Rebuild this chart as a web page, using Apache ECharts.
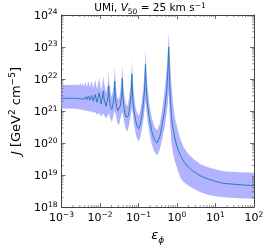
<!DOCTYPE html>
<html><head><meta charset="utf-8">
<script src="https://cdn.jsdelivr.net/npm/echarts@6/dist/echarts.min.js"></script>
<style>html,body{margin:0;padding:0;background:#fff}#c{width:267px;height:250px}</style>
</head><body><div id="c"></div>
<script>
// epsilon_phi sample positions
const eps = [0.001,0.0014,0.00152,0.0017,0.00188,0.00212,0.00238,0.00253,0.0027,0.00289,0.0031,0.00334,0.0036,0.0039,0.00422,0.0046,0.00502,0.0055,0.00608,0.0067,0.0075,0.0084,0.0095,0.0108,0.0124,
0.0127,0.0145,0.0165,0.0169,
0.0174,0.0187,0.0203,0.022,0.0236,0.0243,
0.0247,0.0252,0.0261,0.0274,0.0288,0.0304,0.0321,0.0337,0.0354,0.0367,0.0375,0.038,
0.0387,0.0398,0.0417,0.0444,0.0473,0.0507,0.0543,0.0579,0.0617,0.0646,0.0665,0.0676,
0.0693,0.0722,0.0769,0.0841,0.092,0.1014,0.1117,0.1222,0.1336,0.1426,0.1483,0.152,
0.1585,0.17,0.19,0.221,0.258,0.304,0.359,0.418,0.487,0.544,0.583,0.608,
0.63,0.66,0.72,0.8,0.9,1.05,1.25,1.52,2.0,2.64,4.0,6.6,10,16.5,41,100];
// log10 J (central curve)
const logJ = [21.40,21.40,21.41,21.40,21.41,21.40,21.41,21.395,21.42,21.39,21.43,21.38,21.44,21.37,21.45,21.36,21.47,21.34,21.49,21.31,21.52,21.27,21.57,21.22,21.63,
21.39,21.15,21.51,21.78,
21.42,21.16,21.05,21.23,21.55,21.93,
21.64,21.44,21.26,21.10,21.00,20.95,21.02,21.16,21.35,21.56,21.77,22.02,
21.64,21.39,21.16,20.94,20.81,20.75,20.84,21.03,21.27,21.55,21.83,22.15,
21.64,21.30,20.99,20.71,20.54,20.45,20.59,20.85,21.20,21.60,22.01,22.47,
21.73,21.24,20.79,20.37,20.12,20.00,20.20,20.60,21.10,21.70,22.30,23.00,
22.30,21.60,20.80,20.40,20.10,19.81,19.60,19.41,19.24,19.12,18.98,18.87,18.80,18.74,18.70,18.67];
// log10 J lower edge of band
const logJlo = [21.08,21.08,21.08,21.07,21.08,21.07,21.07,21.06,21.07,21.05,21.06,21.03,21.05,21.01,21.03,20.99,21.01,20.97,20.99,20.94,20.97,20.89,20.93,20.84,20.92,
20.88,20.77,20.90,20.95,
20.90,20.77,20.66,20.83,20.95,21.00,
20.95,20.95,20.86,20.71,20.61,20.56,20.62,20.75,20.85,20.90,20.95,21.00,
20.95,20.90,20.75,20.54,20.42,20.36,20.44,20.62,20.80,20.95,21.05,21.12,
21.00,20.88,20.58,20.31,20.14,20.05,20.19,20.42,20.70,21.00,21.20,21.30,
21.10,20.75,20.35,19.97,19.73,19.61,19.80,20.15,20.55,20.95,21.30,21.60,
21.20,20.60,20.00,19.65,19.40,19.15,18.90,18.78,18.67,18.58,18.47,18.38,18.34,18.31,18.28,18.26];
// log10 J upper edge of band
const logJhi = [21.81,21.81,21.83,21.80,21.83,21.80,21.84,21.79,21.85,21.79,21.86,21.78,21.88,21.77,21.90,21.76,21.92,21.74,21.95,21.71,21.98,21.67,22.03,21.62,22.10,
21.90,21.55,21.98,22.25,
21.92,21.57,21.45,21.66,22.05,22.40,
22.15,21.95,21.72,21.52,21.40,21.35,21.43,21.60,21.85,22.10,22.30,22.48,
22.20,21.93,21.65,21.38,21.22,21.15,21.26,21.48,21.78,22.10,22.35,22.62,
22.25,21.88,21.50,21.12,20.94,20.85,21.00,21.32,21.72,22.15,22.50,22.92,
22.35,21.85,21.25,20.80,20.52,20.39,20.62,21.10,21.70,22.35,22.90,23.47,
23.10,22.60,21.80,21.20,20.75,20.40,20.10,19.85,19.65,19.51,19.35,19.24,19.18,19.12,19.09,19.07];

const xMin = 1e-3, xMax = 1e2, yMin = 1e18, yMax = 1e24;
const xDecades = [-3,-2,-1,0,1];
const yDecades = [18,19,20,21,22,23];
const minorMult = [2,3,4,5,6,7,8,9];

const J = logJ.map(v => Math.pow(10, v));
const Jlo = logJlo.map(v => Math.pow(10, v));
const Jhi = logJhi.map(v => Math.pow(10, v));

const FONT = 'DejaVu Sans';
const tickRich = {
  b: {fontSize: 11, fontFamily: FONT, color: '#000', lineHeight: 13, verticalAlign: 'bottom'},
  s: {fontSize: 7.5, fontFamily: FONT, color: '#000', lineHeight: 7, verticalAlign: 'top'}
};
function expLabel(v) {
  const e = Math.round(Math.log10(v));
  return '{b|10}{s|' + (e < 0 ? '\u2212' + (-e) : e) + '}';
}

const xMinor = [];
xDecades.forEach(d => minorMult.forEach(m => xMinor.push(m * Math.pow(10, d))));
const yMinor = [];
yDecades.forEach(d => minorMult.forEach(m => yMinor.push(m * Math.pow(10, d))));

const frame = '#444';
const chart = echarts.init(document.getElementById('c'), null, {renderer: 'canvas'});
const axisCommon = {
  type: 'log', logBase: 10,
  axisLine: {show: true, lineStyle: {color: frame, width: 1}},
  axisTick: {show: true, inside: true, length: 4, lineStyle: {color: frame, width: 0.8}},
  splitLine: {show: false}
};
chart.setOption({
  animation: false,
  grid: {left: 46, right: 13, top: 15, bottom: 32, containLabel: false},
  graphic: [{
    type: 'text', x: 150, y: 2,
    style: {
      text: '{a|UMi, }{i|V}{sub|50}{a| = 25 km s}{sup|\u22121}',
      align: 'center', verticalAlign: 'top',
      rich: {
        a: {fontSize: 10.5, fontFamily: FONT, color: '#000', lineHeight: 12, verticalAlign: 'bottom'},
        i: {fontSize: 10.5, fontFamily: FONT, fontStyle: 'italic', color: '#000', lineHeight: 12, verticalAlign: 'bottom'},
        sub: {fontSize: 7.5, fontFamily: FONT, color: '#000', lineHeight: 7, verticalAlign: 'bottom', padding: [0,0,-2,0]},
        sup: {fontSize: 7.5, fontFamily: FONT, color: '#000', lineHeight: 7, verticalAlign: 'top'}
      }
    }
  }],
  xAxis: [
    Object.assign({}, axisCommon, {
      min: xMin, max: xMax, position: 'bottom',
      axisLabel: {margin: 4, formatter: expLabel, rich: tickRich},
      name: '{i|\u03b5}{sub|\u03d5}', nameLocation: 'middle', nameGap: 9,
      nameTextStyle: {rich: {
        i: {fontSize: 13, fontFamily: FONT, fontStyle: 'italic', color: '#000', lineHeight: 15, verticalAlign: 'bottom'},
        sub: {fontSize: 9, fontFamily: FONT, fontStyle: 'italic', color: '#000', lineHeight: 9, verticalAlign: 'bottom', padding: [0,0,-3,0]}
      }}
    }),
    Object.assign({}, axisCommon, {min: xMin, max: xMax, position: 'top', axisLabel: {show: false}})
  ],
  yAxis: [
    Object.assign({}, axisCommon, {
      min: yMin, max: yMax, position: 'left',
      axisLabel: {margin: 4, formatter: expLabel, rich: tickRich},
      name: '{i|J}{a| [GeV}{sup|2}{a| cm}{sup|\u22125}{a|]}', nameLocation: 'middle', nameGap: 30, nameRotate: 90,
      nameTextStyle: {rich: {
        a: {fontSize: 13, fontFamily: FONT, color: '#000', lineHeight: 15, verticalAlign: 'bottom'},
        i: {fontSize: 13, fontFamily: FONT, fontStyle: 'italic', color: '#000', lineHeight: 15, verticalAlign: 'bottom'},
        sup: {fontSize: 9, fontFamily: FONT, color: '#000', lineHeight: 8, verticalAlign: 'top'}
      }}
    }),
    Object.assign({}, axisCommon, {min: yMin, max: yMax, position: 'right', axisLabel: {show: false}})
  ],
  series: [
    {
      type: 'custom', coordinateSystem: 'cartesian2d', silent: true, z: 1,
      data: eps.map((e, i) => [e, Jlo[i], Jhi[i]]),
      encode: {x: 0, y: [1, 2]},
      renderItem: function (params, api) {
        if (params.dataIndex !== 0) return null;
        const pts = [];
        for (let i = 0; i < eps.length; i++) pts.push(api.coord([eps[i], Jhi[i]]));
        for (let i = eps.length - 1; i >= 0; i--) pts.push(api.coord([eps[i], Jlo[i]]));
        return {type: 'polygon', shape: {points: pts}, style: {fill: '#b2b2ff'}};
      }
    },
    {
      type: 'line', z: 3, symbol: 'none', showSymbol: false,
      data: eps.map((e, i) => [e, J[i]]),
      lineStyle: {color: '#2a7bbd', width: 1}
    },
    {
      type: 'custom', coordinateSystem: 'cartesian2d', silent: true, z: 4,
      data: xMinor.map(v => [v, yMin]),
      renderItem: function (params, api) {
        const v = api.value(0);
        const b = api.coord([v, yMin]), t = api.coord([v, yMax]);
        return {type: 'group', children: [
          {type: 'line', shape: {x1: b[0], y1: b[1], x2: b[0], y2: b[1] - 2}, style: {stroke: frame, lineWidth: 0.6}},
          {type: 'line', shape: {x1: t[0], y1: t[1], x2: t[0], y2: t[1] + 2}, style: {stroke: frame, lineWidth: 0.6}}
        ]};
      }
    },
    {
      type: 'custom', coordinateSystem: 'cartesian2d', silent: true, z: 4,
      data: yMinor.map(v => [xMin, v]),
      renderItem: function (params, api) {
        const v = api.value(1);
        const l = api.coord([xMin, v]), r = api.coord([xMax, v]);
        return {type: 'group', children: [
          {type: 'line', shape: {x1: l[0], y1: l[1], x2: l[0] + 2, y2: l[1]}, style: {stroke: frame, lineWidth: 0.6}},
          {type: 'line', shape: {x1: r[0], y1: r[1], x2: r[0] - 2, y2: r[1]}, style: {stroke: frame, lineWidth: 0.6}}
        ]};
      }
    }
  ]
});
</script>
</body></html>
